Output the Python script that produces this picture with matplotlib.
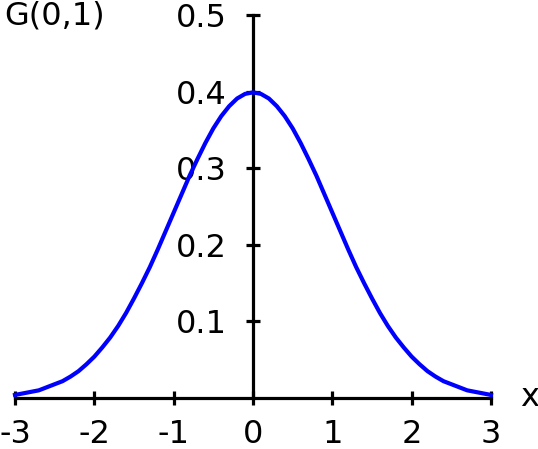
import matplotlib
matplotlib.use("Agg")
import matplotlib.pyplot as plt

plt.rcParams["font.size"] = 23
plt.rcParams["font.family"] = "DejaVu Sans"

# standard normal density
x_vals = [-3.0, -2.9, -2.8, -2.7, -2.6, -2.5, -2.4, -2.3, -2.2, -2.1, -2.0,
          -1.9, -1.8, -1.7, -1.6, -1.5, -1.4, -1.3, -1.2, -1.1, -1.0,
          -0.9, -0.8, -0.7, -0.6, -0.5, -0.4, -0.3, -0.2, -0.1, 0.0,
          0.1, 0.2, 0.3, 0.4, 0.5, 0.6, 0.7, 0.8, 0.9, 1.0,
          1.1, 1.2, 1.3, 1.4, 1.5, 1.6, 1.7, 1.8, 1.9, 2.0,
          2.1, 2.2, 2.3, 2.4, 2.5, 2.6, 2.7, 2.8, 2.9, 3.0]
g_vals = [0.004, 0.006, 0.008, 0.010, 0.014, 0.018, 0.022, 0.028, 0.035, 0.044, 0.054,
          0.066, 0.079, 0.094, 0.111, 0.130, 0.150, 0.171, 0.194, 0.218, 0.242,
          0.266, 0.290, 0.312, 0.333, 0.352, 0.368, 0.381, 0.391, 0.397, 0.399,
          0.397, 0.391, 0.381, 0.368, 0.352, 0.333, 0.312, 0.290, 0.266, 0.242,
          0.218, 0.194, 0.171, 0.150, 0.130, 0.111, 0.094, 0.079, 0.066, 0.054,
          0.044, 0.035, 0.028, 0.022, 0.018, 0.014, 0.010, 0.008, 0.006, 0.004]
x_ticks = [-3, -2, -1, 0, 1, 2, 3]
y_ticks = [0.1, 0.2, 0.3, 0.4, 0.5]

fig = plt.figure(figsize=(5.38, 4.49), dpi=100)
ax = fig.add_axes([15 / 538, 51 / 449, 476 / 538, 383 / 449])

ax.plot(x_vals, g_vals, color="#0000ff", linewidth=3, clip_on=False, zorder=3)

ax.set_xlim(-3, 3)
ax.set_ylim(0, 0.5)

# axes crossing at the origin
ax.spines["left"].set_position(("data", 0))
ax.spines["bottom"].set_position(("data", 0))
ax.spines["top"].set_visible(False)
ax.spines["right"].set_visible(False)
for s in ("left", "bottom"):
    ax.spines[s].set_linewidth(2.3)

ax.set_xticks(x_ticks)
ax.set_xticklabels([str(t) for t in x_ticks])
ax.set_yticks(y_ticks)
ax.set_yticklabels([f"{t:.1f}" for t in y_ticks])
ax.tick_params(axis="both", direction="inout", length=10, width=2.3)
ax.tick_params(axis="y", pad=14)
ax.tick_params(axis="x", pad=10)

ax.text(3.48, 0, "x", ha="center", va="center", clip_on=False)
fig.text(4 / 538, 1 - 16 / 449, "G(0,1)", ha="left", va="center")

fig.savefig("out.png", dpi=100, facecolor="white")
